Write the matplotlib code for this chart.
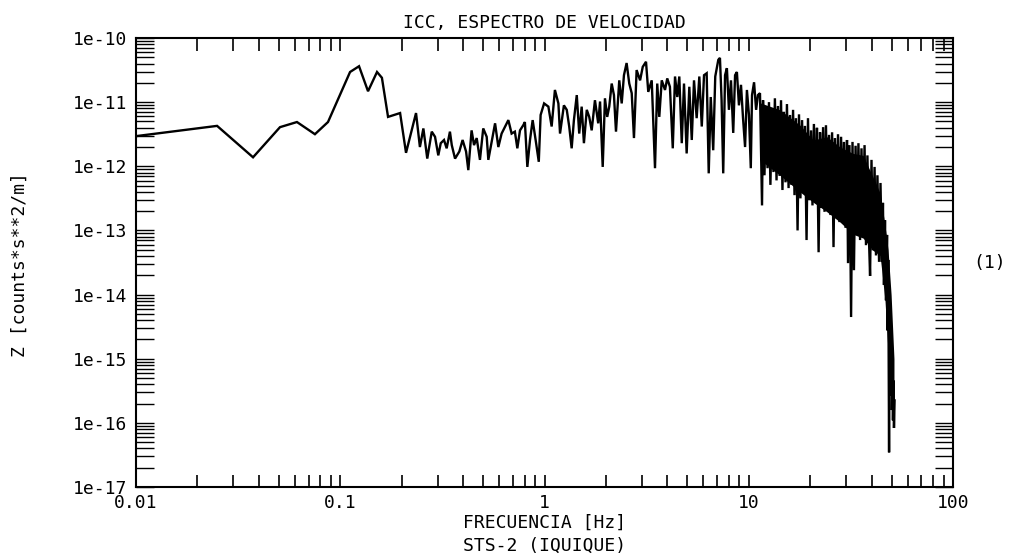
import numpy as np
import matplotlib
matplotlib.use("Agg")
import matplotlib.pyplot as plt
from matplotlib.ticker import FixedLocator, FuncFormatter, LogLocator, NullFormatter

# spectrum, stored as log10(frequency [Hz]) and log10(power)
log_freq = [
    -2.000, -1.603, -1.427, -1.295, -1.212, -1.124, -1.060, -0.952, -0.908, -0.864,
    -0.820, -0.796, -0.766, -0.707, -0.678, -0.629, -0.610, -0.593, -0.574, -0.552,
    -0.536, -0.520, -0.508, -0.492, -0.479, -0.463, -0.454, -0.438, -0.417, -0.401,
    -0.384, -0.373, -0.357, -0.345, -0.332, -0.316, -0.300, -0.283, -0.275, -0.259,
    -0.242, -0.226, -0.210, -0.193, -0.177, -0.161, -0.145, -0.133, -0.120, -0.104,
    -0.096, -0.084, -0.071, -0.058, -0.042, -0.028, -0.019, -0.002, 0.019, 0.035,
    0.051, 0.068, 0.076, 0.095, 0.109, 0.121, 0.133, 0.144, 0.158, 0.170,
    0.182, 0.193, 0.207, 0.219, 0.231, 0.247, 0.263, 0.272, 0.285, 0.296,
    0.307, 0.317, 0.329, 0.340, 0.350, 0.366, 0.378, 0.389, 0.402, 0.415,
    0.427, 0.438, 0.451, 0.468, 0.481, 0.497, 0.508, 0.525, 0.541, 0.552,
    0.562, 0.574, 0.590, 0.601, 0.614, 0.628, 0.639, 0.650, 0.660, 0.672,
    0.683, 0.696, 0.709, 0.721, 0.732, 0.745, 0.758, 0.770, 0.781, 0.794,
    0.804, 0.814, 0.826, 0.836, 0.851, 0.859, 0.867, 0.875, 0.884, 0.893,
    0.903, 0.913, 0.924, 0.933, 0.942, 0.952, 0.962, 0.972, 0.982, 0.991,
    1.001, 1.010, 1.016, 1.026, 1.036, 1.045, 1.055, 1.065, 1.070, 1.077,
    1.084, 1.092, 1.099, 1.106, 1.114, 1.121, 1.128, 1.136, 1.143, 1.151,
    1.158, 1.165, 1.172, 1.180, 1.187, 1.195, 1.202, 1.209, 1.217, 1.224,
    1.231, 1.239, 1.246, 1.253, 1.261, 1.268, 1.275, 1.283, 1.290, 1.297,
    1.305, 1.312, 1.319, 1.327, 1.334, 1.342, 1.349, 1.356, 1.364, 1.371,
    1.378, 1.386, 1.393, 1.400, 1.408, 1.415, 1.422, 1.430, 1.437, 1.444,
    1.452, 1.459, 1.466, 1.474, 1.481, 1.486, 1.493, 1.501, 1.508, 1.515,
    1.523, 1.530, 1.537, 1.545, 1.552, 1.559, 1.567, 1.574, 1.581, 1.589,
    1.594, 1.601, 1.608, 1.616, 1.623, 1.630, 1.638, 1.645, 1.652, 1.657,
    1.662, 1.667, 1.672, 1.677, 1.680, 1.683, 1.687, 1.689, 1.692, 1.694,
    1.696, 1.699, 1.701, 1.704, 1.706, 1.709, 1.711, 1.714,
]
log_psd = [
    -11.53, -11.37, -11.86, -11.39, -11.31, -11.50, -11.31, -10.53, -10.44, -10.83,
    -10.53, -10.62, -11.23, -11.17, -11.79, -11.17, -11.70, -11.41, -11.88, -11.46,
    -11.54, -11.83, -11.64, -11.59, -11.72, -11.46, -11.67, -11.88, -11.77, -11.59,
    -11.77, -12.06, -11.44, -11.67, -11.56, -11.90, -11.41, -11.54, -11.90, -11.62,
    -11.33, -11.70, -11.49, -11.38, -11.28, -11.49, -11.46, -11.72, -11.44, -11.36,
    -11.31, -12.01, -11.59, -11.28, -11.62, -11.93, -11.20, -11.02, -11.07, -11.38,
    -10.81, -11.02, -11.49, -11.05, -11.12, -11.38, -11.72, -11.28, -10.89, -11.49,
    -11.07, -11.64, -11.12, -11.23, -11.44, -10.97, -11.33, -10.99, -12.01, -10.94,
    -11.23, -11.07, -10.71, -10.89, -11.46, -10.66, -11.02, -10.58, -10.39, -10.71,
    -10.86, -11.56, -10.50, -10.66, -10.45, -10.37, -10.84, -10.66, -12.03, -10.71,
    -11.23, -10.66, -10.81, -10.63, -10.76, -11.72, -10.60, -10.92, -10.60, -11.64,
    -10.71, -11.80, -10.76, -11.59, -10.66, -11.25, -10.60, -11.38, -10.58, -10.55,
    -12.11, -10.92, -11.75, -10.60, -10.34, -10.31, -10.97, -12.11, -10.58, -10.47,
    -11.12, -10.66, -11.48, -10.58, -10.53, -11.05, -10.73, -11.25, -11.70, -10.81,
    -11.20, -12.03, -10.89, -10.69, -11.12, -10.89, -10.86, -12.61, -10.97, -12.14,
    -11.09, -12.03, -11.00, -12.29, -11.12, -12.09, -10.94, -12.22, -11.06, -12.15,
    -10.97, -12.37, -11.15, -12.25, -11.03, -12.34, -11.20, -12.29, -11.12, -12.45,
    -11.25, -13.00, -11.19, -12.50, -11.28, -12.40, -11.37, -13.15, -11.25, -12.53,
    -11.44, -12.61, -11.34, -12.50, -11.40, -13.34, -11.47, -12.65, -11.39, -12.71,
    -11.36, -12.61, -11.51, -12.76, -11.47, -13.26, -11.56, -12.81, -11.50, -12.87,
    -11.54, -12.75, -11.62, -12.96, -11.59, -13.51, -11.67, -14.35, -11.62, -13.62,
    -11.68, -13.03, -11.64, -13.15, -11.72, -13.07, -11.67, -13.23, -11.83, -13.18,
    -13.71, -11.90, -13.31, -12.01, -13.39, -12.14, -13.49, -12.26, -13.49, -12.57,
    -13.85, -12.84, -14.09, -13.07, -14.56, -13.46, -16.46, -14.09, -15.18, -14.40,
    -15.57, -14.71, -15.80, -15.10, -15.96, -15.34, -16.08, -15.65,
]

# above ~11 Hz the trace is so dense it prints as a solid black band
band_log_freq = [1.055, 1.153, 1.251, 1.315, 1.383, 1.447, 1.511, 1.560, 1.608,
                 1.643, 1.667, 1.682, 1.697, 1.711]
band_log_top = [-11.01, -11.12, -11.36, -11.59, -11.54, -11.70, -11.80, -11.83,
                -12.17, -12.42, -12.92, -13.30, -14.00, -15.00]
band_log_bottom = [-11.90, -12.14, -12.40, -12.56, -12.71, -12.87, -13.06, -13.12,
                   -13.31, -13.39, -14.09, -14.90, -15.60, -15.90]

x_ticks = [0.01, 0.1, 1, 10, 100]
x_tick_labels = ["0.01", "0.1", "1", "10", "100"]
y_exponents = [-17, -16, -15, -14, -13, -12, -11, -10]

freq = 10.0 ** np.array(log_freq)
psd = 10.0 ** np.array(log_psd)

plt.rcParams["font.family"] = ["DejaVu Sans Mono"]

W, H = 1011, 560
fig = plt.figure(figsize=(W / 100, H / 100), dpi=100)
left, right, top, bottom = 136, 953, 38, 487
ax = fig.add_axes([left / W, 1 - bottom / H, (right - left) / W, (bottom - top) / H])

ax.fill_between(10.0 ** np.array(band_log_freq), 10.0 ** np.array(band_log_bottom),
                10.0 ** np.array(band_log_top), color="black", lw=0)
ax.plot(freq, psd, color="black", lw=1.7, solid_joinstyle="miter")

ax.set_xscale("log")
ax.set_yscale("log")
ax.set_xlim(0.01, 100)
ax.set_ylim(1e-17, 1e-10)

ax.xaxis.set_major_locator(FixedLocator(x_ticks))
ax.set_xticklabels(x_tick_labels)
ax.xaxis.set_minor_locator(LogLocator(base=10, subs=range(2, 10), numticks=20))
ax.xaxis.set_minor_formatter(NullFormatter())

ax.yaxis.set_major_locator(FixedLocator([10.0 ** e for e in y_exponents]))
ax.yaxis.set_major_formatter(FuncFormatter(lambda v, p: "1e%d" % round(np.log10(v))))
ax.yaxis.set_minor_locator(LogLocator(base=10, subs=range(2, 10), numticks=20))
ax.yaxis.set_minor_formatter(NullFormatter())

ax.tick_params(axis="x", which="both", direction="in", top=True, bottom=True,
               length=9, width=1.2, labelsize=13, pad=5)
ax.tick_params(axis="y", which="both", direction="in", left=True, right=True,
               length=13, width=1.0, labelsize=13, pad=6)
for s in ax.spines.values():
    s.set_linewidth(1.5)

fig.text((left + right) / 2 / W, 1 - 23 / H, "ICC, ESPECTRO DE VELOCIDAD",
         ha="center", va="center", fontsize=13)
fig.text((left + right) / 2 / W, 1 - 523 / H, "FRECUENCIA [Hz]",
         ha="center", va="center", fontsize=13)
fig.text((left + right) / 2 / W, 1 - 546 / H, "STS-2 (IQUIQUE)",
         ha="center", va="center", fontsize=13)
fig.text(20 / W, 1 - 265 / H, "Z [counts*s**2/m]", rotation=90,
         ha="center", va="center", fontsize=13)
fig.text(990 / W, 1 - 263 / H, "(1)", ha="center", va="center", fontsize=13)

fig.savefig("out.png", dpi=100)
